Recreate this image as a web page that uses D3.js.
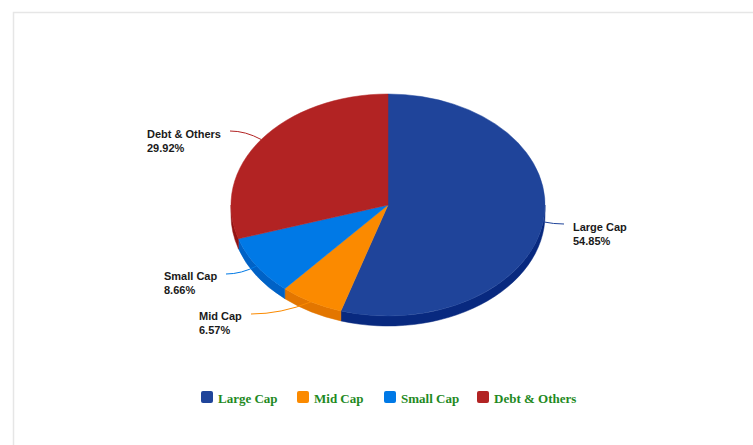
<!DOCTYPE html>
<html>
<head>
<meta charset="utf-8">
<script src="https://cdn.jsdelivr.net/npm/d3@7"></script>
<style>
  body { margin: 0; background: #fff; }
  svg { display: block; }
</style>
</head>
<body>
<div id="chart"></div>
<script>
// data
const categories = ["Large Cap", "Mid Cap", "Small Cap", "Debt & Others"];
const shares = [54.85, 6.57, 8.66, 29.92];
const topColors = ["#1f449a", "#fb8a00", "#0079e6", "#b22323"];
const sideColors = ["#08297f", "#e37600", "#0062c6", "#931313"];

const width = 753, height = 445;
const cx = 388, cy = 205, rx = 157, ry = 111, depth = 10;

const svg = d3.select('#chart').append('svg')
    .attr('width', width)
    .attr('height', height);

// chart frame
svg.append('rect')
    .attr('x', 13.5).attr('y', 12.5)
    .attr('width', width).attr('height', height)
    .attr('fill', '#fff')
    .attr('stroke', '#e6e6e6')
    .attr('stroke-width', 1.5);

const pie = d3.pie().sort(null).value(d => d)(shares);
const color = d3.scaleOrdinal().domain(categories).range(topColors);
const side = d3.scaleOrdinal().domain(categories).range(sideColors);

// project an angle (clockwise from 12 o'clock) onto the tilted ellipse
const px = a => cx + rx * Math.sin(a);
const py = a => cy - ry * Math.cos(a);

// outer walls, only the front half (90deg..270deg) shows
const walls = svg.append('g');
pie.forEach((p, i) => {
    const a0 = Math.max(p.startAngle, Math.PI / 2);
    const a1 = Math.min(p.endAngle, Math.PI * 1.5);
    if (a1 <= a0) return;
    const path = `M${px(a0)},${py(a0)}`
        + `A${rx},${ry} 0 0 1 ${px(a1)},${py(a1)}`
        + `L${px(a1)},${py(a1) + depth}`
        + `A${rx},${ry} 0 0 0 ${px(a0)},${py(a0) + depth}Z`;
    walls.append('path')
        .attr('d', path)
        .attr('fill', side(categories[i]))
        .attr('stroke', side(categories[i]))
        .attr('stroke-width', 0.5);
});

// top faces
const tops = svg.append('g');
pie.forEach((p, i) => {
    const large = (p.endAngle - p.startAngle) > Math.PI ? 1 : 0;
    const path = `M${cx},${cy}L${px(p.startAngle)},${py(p.startAngle)}`
        + `A${rx},${ry} 0 ${large} 1 ${px(p.endAngle)},${py(p.endAngle)}Z`;
    tops.append('path')
        .attr('d', path)
        .attr('fill', color(categories[i]))
        .attr('stroke', color(categories[i]))
        .attr('stroke-width', 0.5);
});

// data labels with connectors
const labelPos = [
    {x: 573, y: 231, lx: 564, ly: 224, anchor: 'start'},
    {x: 199, y: 320, lx: 251, ly: 314, anchor: 'start'},
    {x: 164, y: 280, lx: 226, ly: 274, anchor: 'start'},
    {x: 147, y: 138, lx: 230, ly: 131, anchor: 'start'}
];

const labels = svg.append('g')
    .style('font', 'bold 11px "Liberation Sans", Arial, sans-serif')
    .attr('fill', '#1a1a1a');

pie.forEach((p, i) => {
    const mid = (p.startAngle + p.endAngle) / 2;
    const ex = px(mid), ey = py(mid);
    const lp = labelPos[i];
    const qx = lp.lx + (ex - lp.lx) * 0.5;
    svg.append('path')
        .attr('d', `M${lp.lx},${lp.ly}Q${qx},${lp.ly} ${ex},${ey}`)
        .attr('fill', 'none')
        .attr('stroke', color(categories[i]))
        .attr('stroke-width', 1);
    const t = labels.append('text')
        .attr('x', lp.x).attr('y', lp.y)
        .attr('text-anchor', lp.anchor);
    t.append('tspan').text(categories[i]);
    t.append('tspan').attr('x', lp.x).attr('dy', 13.5).text(shares[i].toFixed(2) + '%');
});

// legend
const legendX = [201, 297, 384, 477];
const legend = svg.append('g');
categories.forEach((c, i) => {
    const g = legend.append('g').attr('transform', `translate(${legendX[i]},391)`);
    g.append('rect')
        .attr('width', 12).attr('height', 12)
        .attr('rx', 2)
        .attr('fill', color(c));
    g.append('text')
        .attr('x', 17).attr('y', 11.5)
        .style('font', 'bold 13px "Liberation Serif", "Times New Roman", serif')
        .attr('fill', '#1f8a1f')
        .text(c);
});
</script>
</body>
</html>
